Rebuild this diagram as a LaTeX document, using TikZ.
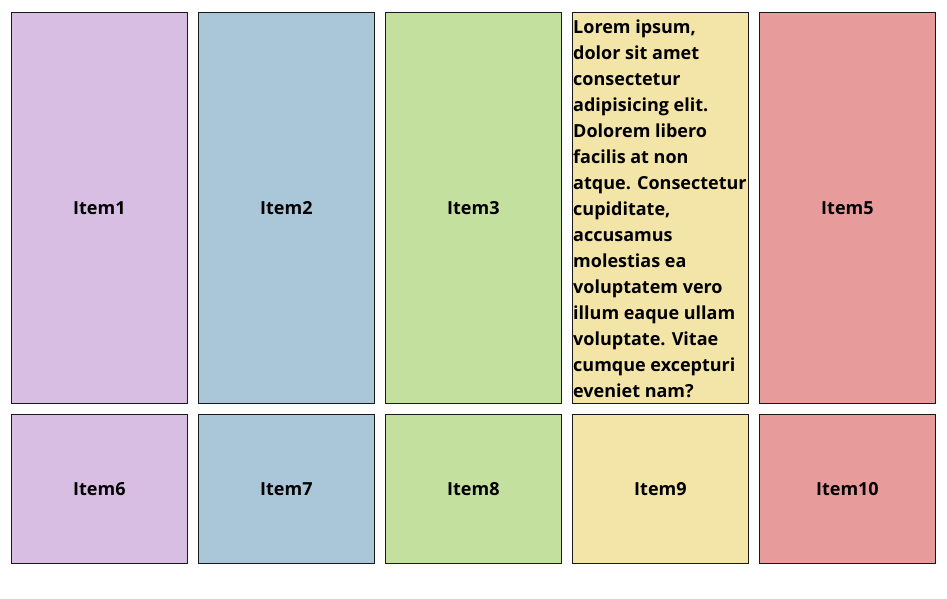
\documentclass[tikz,border=0pt]{standalone}
\usepackage{fontspec}
\setmainfont{Open Sans}
\usetikzlibrary{positioning}
\definecolor{itempurple}{RGB}{217,190,227}
\definecolor{itemblue}{RGB}{170,199,218}
\definecolor{itemgreen}{RGB}{196,224,159}
\definecolor{itemyellow}{RGB}{243,228,167}
\definecolor{itemred}{RGB}{231,156,155}
\tikzset{itembox/.style={rectangle, draw=black!90, line width=0.8pt, inner sep=0pt, minimum width=176pt, font=\bfseries\fontsize{18}{26}\selectfont}}
\tikzset{tallbox/.style={itembox, minimum height=391pt}}
\tikzset{shortbox/.style={itembox, minimum height=149pt}}

\begin{document}
\begin{tikzpicture}
        \tikzset{node distance=10.2pt and 10.2pt}
        \useasboundingbox (0,0) rectangle (947pt,-598pt);

        \node[tallbox, fill=itempurple, anchor=north west] (item1) at (11pt,-12pt) {Item1};
        \node[tallbox, fill=itemblue, right= of item1] (item2) {Item2};
        \node[tallbox, fill=itemgreen, right= of item2] (item3) {Item3};
        \node[tallbox, fill=itemyellow, right= of item3] (item4) {};
        \node[tallbox, fill=itemred, right= of item4] (item5) {Item5};

        \node[anchor=north west, align=left, inner xsep=1pt, inner ysep=7.5pt,
              font=\bfseries\fontsize{18}{26}\selectfont] (item4text) at (item4.north west)
              {Lorem ipsum,\\ dolor sit amet\\ consectetur\\ adipisicing elit.\\ Dolorem libero\\
               facilis at non\\ atque. Consectetur\\ cupiditate,\\ accusamus\\ molestias ea\\
               voluptatem vero\\ illum eaque ullam\\ voluptate. Vitae\\ cumque excepturi\\ eveniet nam?};

        \node[shortbox, fill=itempurple, below= of item1] (item6) {Item6};
        \node[shortbox, fill=itemblue, below= of item2] (item7) {Item7};
        \node[shortbox, fill=itemgreen, below= of item3] (item8) {Item8};
        \node[shortbox, fill=itemyellow, below= of item4] (item9) {Item9};
        \node[shortbox, fill=itemred, below= of item5] (item10) {Item10};

\end{tikzpicture}
\end{document}
